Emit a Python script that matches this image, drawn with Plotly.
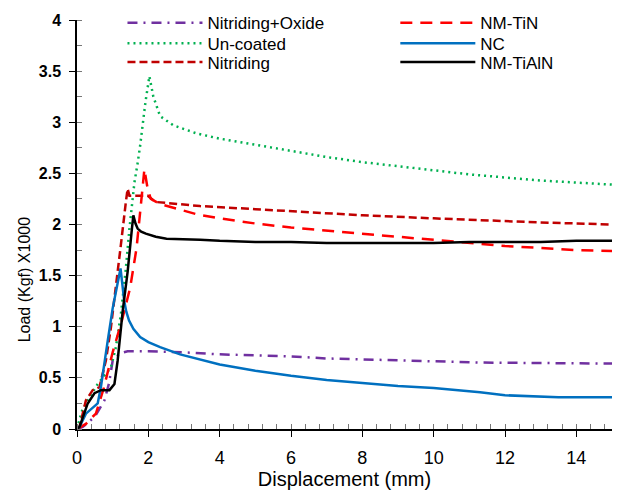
import plotly.graph_objects as go

# ---- data (displacement mm, load kgf x1000) ----
oxide_x = [0, 0.16, 0.5, 0.77, 0.9, 1.0, 1.2, 1.42, 2, 3, 4, 5, 6, 7, 8, 9, 10, 11.3, 13, 15]
oxide_y = [0, 0.02, 0.12, 0.28, 0.45, 0.67, 0.74, 0.76, 0.76, 0.75, 0.73, 0.72, 0.71, 0.69, 0.68, 0.67, 0.66, 0.65, 0.645, 0.64]

uncoated_x = [0, 0.13, 0.35, 0.58, 0.95, 1.09, 1.23, 1.37, 1.47, 1.61, 1.7, 1.77, 1.92, 2.03, 2.14, 2.33, 2.7, 3.36, 4, 5, 6, 7, 8, 9, 10, 11, 12, 13, 14, 15]
uncoated_y = [0, 0.17, 0.31, 0.44, 0.60, 0.80, 1.12, 1.57, 1.96, 2.41, 2.60, 2.77, 3.2, 3.45, 3.25, 3.06, 2.97, 2.89, 2.84, 2.78, 2.72, 2.66, 2.61, 2.57, 2.53, 2.49, 2.46, 2.43, 2.41, 2.39]

nitriding_x = [0, 0.07, 0.25, 0.44, 0.63, 0.81, 0.95, 1.09, 1.23, 1.37, 1.42, 1.47, 1.98, 2.21, 3.45, 5, 6, 8, 10, 11.4, 13, 15]
nitriding_y = [0, 0.02, 0.28, 0.38, 0.41, 0.67, 0.99, 1.38, 1.80, 2.22, 2.35, 2.28, 2.28, 2.22, 2.18, 2.15, 2.13, 2.09, 2.06, 2.04, 2.02, 2.0]

tin_x = [0, 0.25, 0.44, 0.53, 0.75, 1.0, 1.25, 1.49, 1.67, 1.84, 1.89, 1.98, 2.07, 2.33, 3.36, 4, 5, 6, 7, 8, 9, 10, 11.3, 12, 13, 14, 15]
tin_y = [0, 0.05, 0.12, 0.15, 0.4, 0.75, 1.05, 1.38, 1.77, 2.41, 2.54, 2.35, 2.25, 2.2, 2.10, 2.06, 2.01, 1.97, 1.94, 1.91, 1.88, 1.85, 1.81, 1.79, 1.77, 1.75, 1.74]

nc_x = [0, 0.07, 0.25, 0.49, 0.58, 0.67, 0.72, 0.86, 1.0, 1.14, 1.22, 1.27, 1.32, 1.38, 1.46, 1.58, 1.77, 2.0, 2.33, 2.89, 4, 5, 6, 7, 8, 9, 10, 11.3, 12, 13.5, 15]
nc_y = [0, 0.02, 0.15, 0.22, 0.25, 0.41, 0.54, 0.86, 1.18, 1.44, 1.57, 1.42, 1.26, 1.15, 1.06, 0.98, 0.90, 0.85, 0.80, 0.73, 0.63, 0.57, 0.52, 0.48, 0.45, 0.42, 0.40, 0.36, 0.33, 0.31, 0.31]

tialn_x = [0, 0.07, 0.30, 0.49, 0.67, 0.91, 1.05, 1.14, 1.28, 1.42, 1.54, 1.58, 1.64, 1.70, 1.80, 1.93, 2.21, 2.51, 3.45, 4, 5, 6, 7, 8, 9, 10, 11, 12, 13, 14, 15]
tialn_y = [0, 0.02, 0.25, 0.35, 0.38, 0.38, 0.44, 0.67, 1.15, 1.54, 1.96, 2.09, 2.01, 1.96, 1.93, 1.91, 1.88, 1.86, 1.85, 1.84, 1.83, 1.83, 1.82, 1.82, 1.82, 1.82, 1.83, 1.83, 1.83, 1.84, 1.84]

x_ticks = [0, 2, 4, 6, 8, 10, 12, 14]
y_ticks = [0, 0.5, 1, 1.5, 2, 2.5, 3, 3.5, 4]
y_ticklabels = ["0", "0.5", "1", "1.5", "2", "2.5", "3", "3.5", "4"]

FONT = "Liberation Sans, Arial, sans-serif"

fig = go.Figure()

def add(x, y, name, color, dash, legend):
    fig.add_trace(go.Scatter(x=x, y=y, mode="lines", name=name,
                             line=dict(color=color, dash=dash, width=2.5),
                             legend=legend, showlegend=True))

add(oxide_x, oxide_y, "Nitriding+Oxide", "#7030A0", "10px,6px,2px,6px", "legend")
add(uncoated_x, uncoated_y, "Un-coated", "#00B050", "2px,4px", "legend2")
add(nitriding_x, nitriding_y, "Nitriding", "#C00000", "8px,4px", "legend3")
add(tin_x, tin_y, "NM-TiN", "#FF0000", "12px,8px", "legend4")
add(nc_x, nc_y, "NC", "#0070C0", "solid", "legend5")
add(tialn_x, tialn_y, "NM-TiAlN", "#000000", "solid", "legend6")

def leg(x, y):
    return dict(x=x, y=y, xanchor="left", yanchor="middle", orientation="v",
                font=dict(family=FONT, size=17, color="#000"), visible=True,
                bgcolor="rgba(0,0,0,0)", borderwidth=0, itemwidth=75)

col1, col2 = 0.085, 0.595
rows = [0.992, 0.942, 0.896]

fig.update_layout(
    width=617, height=494,
    showlegend=True,
    margin=dict(l=77, r=5, t=16, b=65),
    paper_bgcolor="white", plot_bgcolor="white",
    font=dict(family=FONT, color="#000"),
    legend=leg(col1, rows[0]), legend2=leg(col1, rows[1]), legend3=leg(col1, rows[2]),
    legend4=leg(col2, rows[0]), legend5=leg(col2, rows[1]), legend6=leg(col2, rows[2]),
    xaxis=dict(range=[0, 15], tickvals=x_ticks, ticktext=[str(v) for v in x_ticks],
               showgrid=False, zeroline=False, showline=True, linecolor="#000", linewidth=1.5,
               ticks="outside", ticklen=6, tickcolor="#000", tickwidth=1, ticklabelstandoff=6,
               tickfont=dict(family=FONT, size=18, color="#000"), automargin=False,
               minor=dict(ticks="inside", dtick=0.4, ticklen=5, tickcolor="#777", tickwidth=1),
               title=dict(text="Displacement (mm)", font=dict(family=FONT, size=20, color="#000"), standoff=4)),
    yaxis=dict(range=[0, 4], tickvals=y_ticks, ticktext=["<b>%s</b>" % t for t in y_ticklabels],
               showgrid=False, zeroline=False, showline=True, linecolor="#000", linewidth=1.5,
               ticks="outside", ticklen=6, tickcolor="#000", tickwidth=1, ticklabelstandoff=5,
               tickfont=dict(family=FONT, size=16, color="#000"), automargin=False,
               minor=dict(ticks="inside", dtick=0.25, ticklen=5, tickcolor="#777", tickwidth=1)),
    annotations=[dict(text="Load (Kgf) X1000", textangle=-90, xref="paper", yref="paper",
                      x=-0.099, y=0.366, xanchor="center", yanchor="middle", showarrow=False,
                      font=dict(family=FONT, size=16, color="#000"))],
)

fig.write_html("out.html", config={"displayModeBar": False},
               post_script="document.body.style.margin='0';")
